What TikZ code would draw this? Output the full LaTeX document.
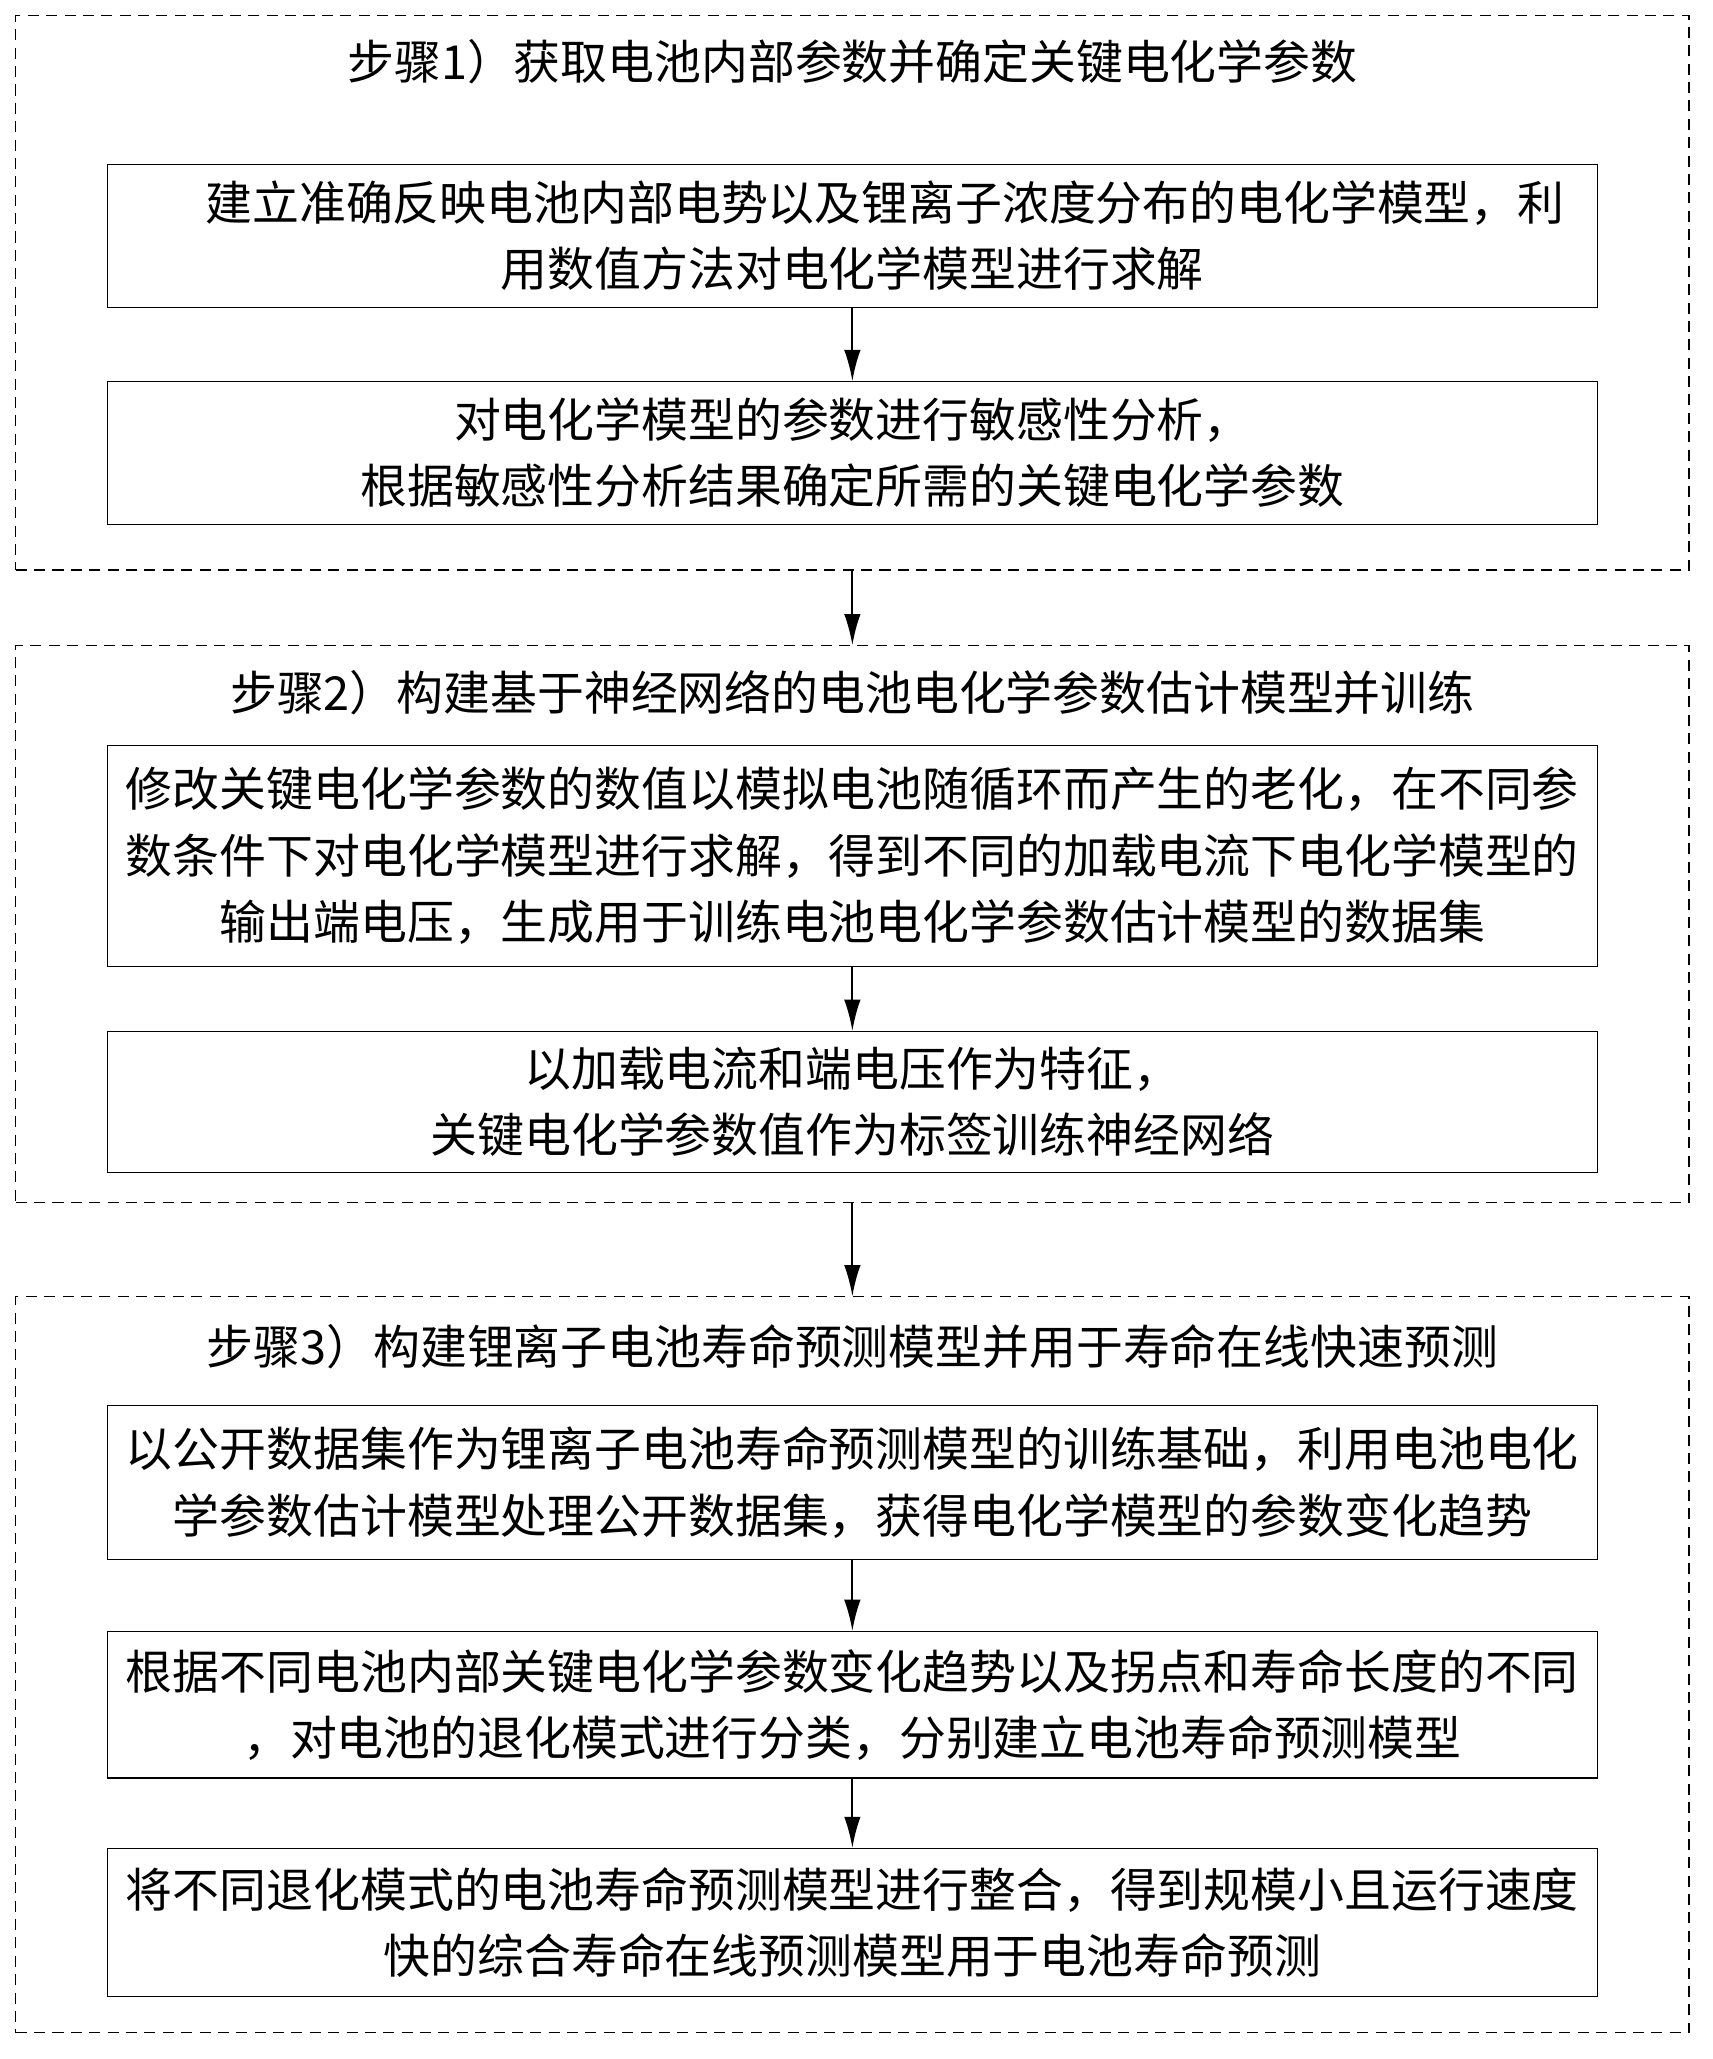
\documentclass[tikz,border=0pt]{standalone}
\usepackage{fontspec}
\newfontfamily\cjk{Noto Sans CJK SC}
\usetikzlibrary{arrows.meta}
\begin{document}
\begin{tikzpicture}[x=0.05cm,y=-0.05cm,
 box/.style={draw,line width=1.2pt,minimum width=57cm,inner sep=0pt,font=\cjk\fontsize{51pt}{72pt}\selectfont,align=center},
 grp/.style={draw,dashed,line width=1.2pt,dash pattern=on 12pt off 8pt,minimum width=64cm,inner sep=0pt},
 ttl/.style={font=\cjk\fontsize{51pt}{60pt}\selectfont},
 arr/.style={-{Latex[length=34pt,width=18pt]},line width=2.4pt}]
\useasboundingbox (0,0) rectangle (1310,1575);
\node[grp,minimum height=21.2cm] (g1) at (652,224) {};
\node[grp,minimum height=21.3cm] (g2) at (652,707) {};
\node[grp,minimum height=28.15cm] (g3) at (652,1273.5) {};
\node[ttl] (t1) at (652,47) {步骤1）获取电池内部参数并确定关键电化学参数};
\node[ttl] (t2) at (652,530) {步骤2）构建基于神经网络的电池电化学参数估计模型并训练};
\node[ttl] (t3) at (652,1030) {步骤3）构建锂离子电池寿命预测模型并用于寿命在线快速预测};
\node[box,minimum height=5.45cm] (a1) at (652,180.5) {\hspace*{2.5cm}建立准确反映电池内部电势以及锂离子浓度分布的电化学模型，利\\用数值方法对电化学模型进行求解};
\node[box,minimum height=5.45cm] (a2) at (652,346.5) {对电化学模型的参数进行敏感性分析，\\根据敏感性分析结果确定所需的关键电化学参数};
\node[box,minimum height=8.45cm] (b1) at (652,654.5) {修改关键电化学参数的数值以模拟电池随循环而产生的老化，在不同参\\数条件下对电化学模型进行求解，得到不同的加载电流下电化学模型的\\输出端电压，生成用于训练电池电化学参数估计模型的数据集};
\node[box,minimum height=5.4cm] (b2) at (652,843) {以加载电流和端电压作为特征，\\关键电化学参数值作为标签训练神经网络};
\node[box,minimum height=5.9cm] (c1) at (652,1134) {以公开数据集作为锂离子电池寿命预测模型的训练基础，利用电池电化\\学参数估计模型处理公开数据集，获得电化学模型的参数变化趋势};
\node[box,minimum height=5.6cm] (c2) at (652,1304) {根据不同电池内部关键电化学参数变化趋势以及拐点和寿命长度的不同\\，对电池的退化模式进行分类，分别建立电池寿命预测模型};
\node[box,minimum height=5.65cm] (c3) at (652,1470.5) {将不同退化模式的电池寿命预测模型进行整合，得到规模小且运行速度\\快的综合寿命在线预测模型用于电池寿命预测};
\draw[arr] (a1) -- (a2);
\draw[arr] (g1) -- (g2);
\draw[arr] (b1) -- (b2);
\draw[arr] (g2) -- (g3);
\draw[arr] (c1) -- (c2);
\draw[arr] (c2) -- (c3);
\end{tikzpicture}
\end{document}
